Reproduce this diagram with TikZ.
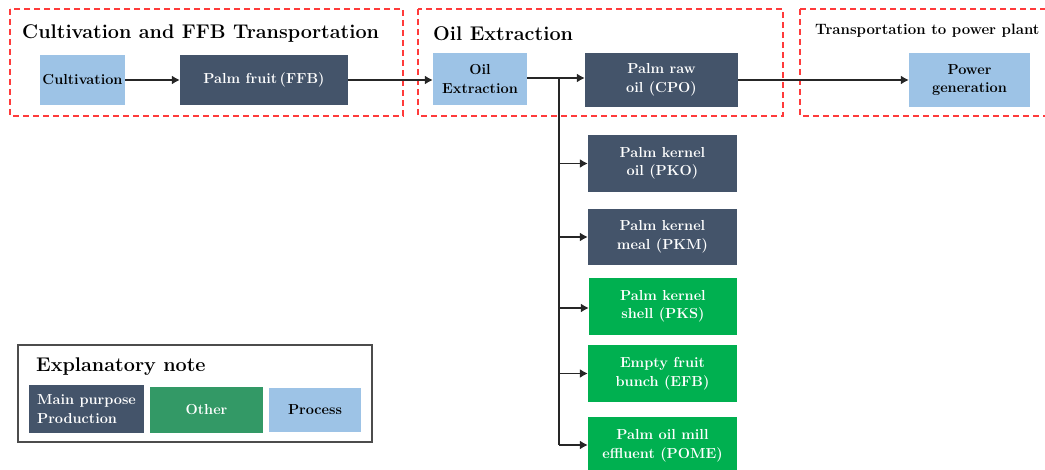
\documentclass[tikz,border=0pt]{standalone}
\usetikzlibrary{arrows.meta}
\definecolor{darkbl}{HTML}{44546A}
\definecolor{lightbl}{HTML}{9DC3E6}
\definecolor{grn}{HTML}{00B050}
\definecolor{othergrn}{HTML}{339966}
\definecolor{dashred}{HTML}{FF3B3B}
\begin{document}
\begin{tikzpicture}[x=1pt,y=-1pt,
  box/.style={inner sep=0pt, align=center, font=\fontsize{14.5}{18.5}\selectfont\bfseries},
  mainbox/.style={box, fill=darkbl, text=white},
  procbox/.style={box, fill=lightbl, text=black},
  othbox/.style={box, fill=grn, text=white},
  stagebox/.style={draw=dashred, line width=1.4pt, dash pattern=on 6pt off 4pt},
  arr/.style={draw=black!85, line width=1.3pt, -{Latex[length=8pt,width=9pt]}},
  ln/.style={draw=black!85, line width=1.3pt},
  ttl/.style={anchor=west, inner sep=0pt, font=\fontsize{19.8}{22}\selectfont\bfseries}
]
\useasboundingbox (0,0) rectangle (1045,470);
% stage frames
\draw[stagebox] (10,9) rectangle (403,116);
\draw[stagebox] (418,9) rectangle (783,116);
\draw[stagebox] (800,9) -- (1050,9) (800,9) -- (800,116) -- (1050,116);
\node[ttl] (t1) at (22,34) {Cultivation and FFB Transportation};
\node[ttl] (t2) at (433,34) {Oil Extraction};
\node[ttl, font=\fontsize{15}{17}\selectfont\bfseries] (t3) at (815,31) {Transportation to power plant};
% top row
\node[procbox, minimum width=85pt, minimum height=50pt] (cult) at (82.5,80) {Cultivation};
\node[mainbox, minimum width=168pt, minimum height=50pt] (ffb) at (264,80) {Palm fruit\,(FFB)};
\node[procbox, minimum width=94pt, minimum height=52pt] (oil) at (480,79) {Oil\\Extraction};
\node[mainbox, minimum width=153pt, minimum height=54pt] (cpo) at (661.5,80) {Palm raw\\oil (CPO)};
\node[procbox, minimum width=121pt, minimum height=54pt] (pg) at (969.5,80) {Power\\generation};
% by-products
\node[mainbox, minimum width=149pt, minimum height=57pt] (pko) at (662.5,163.5) {Palm kernel\\oil (PKO)};
\node[mainbox, minimum width=149pt, minimum height=56pt] (pkm) at (662.5,237) {Palm kernel\\meal (PKM)};
\node[othbox, minimum width=148pt, minimum height=57pt] (pks) at (663,306.5) {Palm kernel\\shell (PKS)};
\node[othbox, minimum width=149pt, minimum height=57pt] (efb) at (662.5,373.5) {Empty fruit\\bunch (EFB)};
\node[othbox, minimum width=149pt, minimum height=58pt] (pome) at (662.5,446) {Palm oil mill\\effluent (POME)};
% connectors
\draw[arr] (cult) -- (ffb);
\draw[arr] (ffb.east) -- (ffb.east -| oil.west);
\coordinate (jn) at (559,78);
\draw[ln] (oil.east |- jn) -- (jn);
\draw[arr] (jn) -- (jn -| cpo.west);
\draw[arr] (cpo.east) -- (cpo.east -| pg.west);
\coordinate (jb) at (559,445);
\draw[ln] (jn) -- (jb);
\draw[arr] (jn |- pko) -- (pko.west);
\draw[arr] (jn |- pkm) -- (pkm.west);
\draw[arr] (jn |- 0,308) -- (pks.west |- 0,308);
\draw[arr] (jn |- efb) -- (efb.west);
\draw[arr] (jb) -- (pome.west |- jb);
% legend
\draw[draw=black!70, line width=1.3pt] (18,345) rectangle (372,442);
\node[ttl] (lt) at (36,367) {Explanatory note};
\node[mainbox, minimum width=115pt, minimum height=48pt, align=left] (lm) at (86.5,409) {Main purpose\\Production};
\node[box, fill=othergrn, text=white, minimum width=113pt, minimum height=46pt] (lo) at (206.5,410) {Other};
\node[procbox, minimum width=92pt, minimum height=44pt] (lp) at (315,410) {Process};
\end{tikzpicture}
\end{document}
